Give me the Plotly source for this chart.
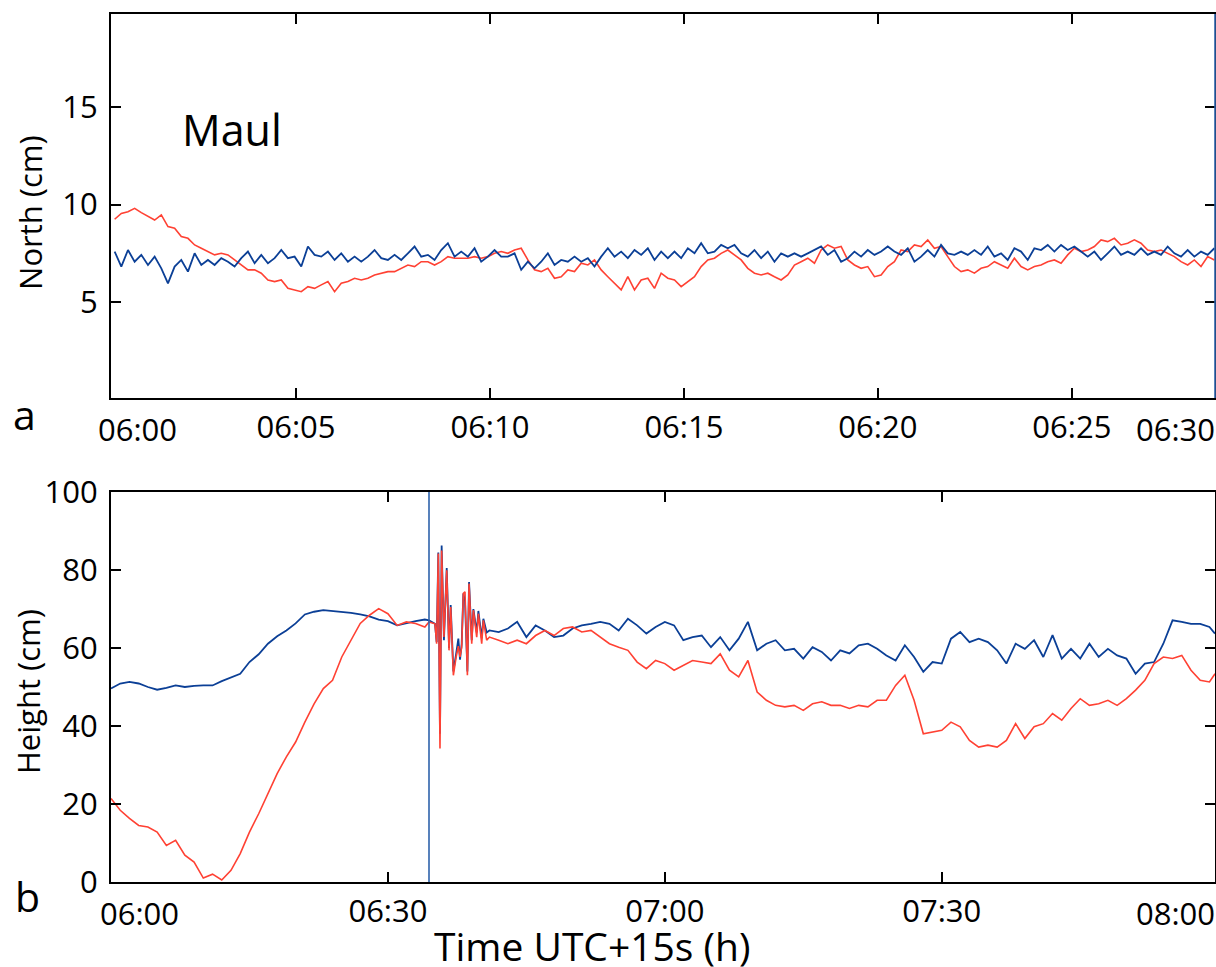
import plotly.graph_objects as go

# ---------------- Panel a : North (cm), sampled every ~10.3 s from 06:00:19.6 ----------------
NORTH_T0_MIN = 0.326
NORTH_DT_MIN = 0.1718

north_red = [
    9.25, 9.55, 9.64, 9.81, 9.59, 9.39, 9.21, 9.47, 8.87, 8.79,
    8.36, 8.27, 7.93, 7.76, 7.59, 7.42, 7.50, 7.42, 7.16, 6.90,
    6.65, 6.65, 6.48, 6.13, 6.05, 6.13, 5.70, 5.62, 5.53, 5.79,
    5.70, 5.88, 6.05, 5.53, 5.96, 6.05, 6.22, 6.13, 6.22, 6.39,
    6.48, 6.56, 6.56, 6.73, 6.90, 6.82, 7.07, 7.07, 6.90, 7.07,
    7.33, 7.25, 7.25, 7.25, 7.33, 7.25, 7.33, 7.50, 7.59, 7.50,
    7.67, 7.76, 7.16, 6.65, 6.56, 6.73, 6.22, 6.30, 6.65, 6.56,
    6.99, 6.90, 7.16, 6.65, 6.30, 5.96, 5.62, 6.30, 5.62, 6.13,
    6.22, 5.70, 6.48, 6.22, 6.13, 5.79, 6.05, 6.30, 6.82, 7.16,
    7.25, 7.50, 7.67, 7.42, 7.16, 6.73, 6.48, 6.39, 6.48, 6.30,
    6.13, 6.39, 6.90, 7.07, 7.25, 6.99, 7.67, 7.93, 7.76, 7.85,
    7.16, 6.90, 6.73, 6.82, 6.30, 6.39, 6.82, 7.07,
    7.67, 7.59, 7.93, 7.85, 8.19, 7.76, 7.85, 7.33, 6.82, 6.56,
    6.65, 6.48, 6.73, 6.82, 7.07, 6.90, 6.73, 7.25, 6.82, 6.65,
    6.82, 6.90, 7.07, 7.16, 6.99, 7.42, 7.76, 7.59, 7.67, 7.85,
    8.19, 8.10, 8.27, 7.93, 8.02, 8.19, 8.02, 7.67, 7.59, 7.67,
    7.50, 7.33, 7.07, 6.90, 7.16, 6.82, 7.33, 7.16,
]

north_blue = [
    7.59, 6.82, 7.67, 7.07, 7.42, 6.90, 7.33, 6.73, 5.96, 6.82,
    7.16, 6.56, 7.50, 6.90, 7.16, 6.90, 7.25, 7.07, 6.82, 7.25,
    7.59, 6.99, 7.42, 6.99, 7.25, 7.67, 7.25, 7.33, 6.82, 7.85,
    7.42, 7.33, 7.59, 7.16, 7.50, 7.07, 7.33, 7.07, 7.33, 7.67,
    7.25, 7.16, 7.42, 7.16, 7.50, 7.85, 7.33, 7.42, 7.16, 7.67,
    8.02, 7.33, 7.59, 7.33, 7.76, 7.07, 7.33, 7.67, 7.33, 7.33,
    7.50, 6.65, 7.07, 6.73, 7.07, 7.50, 6.90, 7.16, 7.07, 7.33,
    7.07, 7.25, 6.82, 7.33, 7.76, 7.33, 7.59, 7.25, 7.67, 7.42,
    7.76, 7.16, 7.59, 7.25, 7.59, 7.25, 7.76, 7.50, 8.02, 7.50,
    7.59, 7.93, 7.76, 7.93, 7.50, 7.33, 7.67, 7.25, 7.59, 7.07,
    7.50, 7.33, 7.50, 7.33, 7.50, 7.67, 7.85, 7.42, 7.67, 7.07,
    7.25, 7.59, 7.33, 7.67, 7.42, 7.59, 7.85, 7.59,
    7.42, 7.76, 7.07, 7.33, 7.67, 7.33, 7.93, 7.50, 7.42, 7.59,
    7.42, 7.67, 7.42, 7.85, 7.33, 7.50, 7.16, 7.76, 7.59, 7.16,
    7.76, 7.67, 7.93, 7.59, 7.93, 7.67, 7.85, 7.59, 7.33, 7.59,
    7.16, 7.50, 7.85, 7.42, 7.59, 7.42, 7.76, 7.42, 7.59, 7.42,
    7.85, 7.50, 7.33, 7.67, 7.33, 7.59, 7.42, 7.76,
]

north_t = [NORTH_T0_MIN + i * NORTH_DT_MIN for i in range(len(north_red))]

north_tickvals = [5, 10, 15, 20, 25]
north_ticktext = ["06:05", "06:10", "06:15", "06:20", "06:25"]
north_yticks = [5, 10, 15]

# ---------------- Panel b : Height (cm), minutes after 06:00 ----------------
height_t = (
    list(range(0, 35))
    + [34.45, 35.1, 35.28, 35.46, 35.64, 35.82, 36.07, 36.37, 36.62, 36.80,
       37.09, 37.39, 37.63, 37.81, 37.99, 38.17, 38.35, 38.61, 38.79, 39.08,
       39.26, 39.62, 39.80, 40.16, 40.34, 40.70]
    + list(range(41, 120))
    + [119.6]
)

height_red = (
    [21.4, 18.4, 16.3, 14.5, 14.1, 12.8, 9.4, 10.7, 6.9, 5.1,
     1.0, 2.0, 0.5, 3.0, 7.3, 12.8, 17.5, 22.7, 27.8, 32.1,
     35.9, 41.0, 45.7, 49.6, 51.7, 57.7, 62.0, 66.3, 68.4, 70.1,
     68.8, 65.8, 66.7, 66.3, 65.4]
    + [66.7, 66.2, 61.1, 84.2, 34.2, 85.0, 62.8, 79.9, 59.4, 70.5,
       53.0, 57.7, 60.5, 57.7, 60.2, 74.0, 74.4, 53.0, 76.5, 61.1,
       69.7, 62.8, 68.8, 61.1, 67.1, 62.0]
    + [62.8, 62.0, 61.1, 62.0, 61.1, 63.2, 64.5, 63.2, 65.0, 65.4,
       64.1, 64.5, 62.8, 61.1, 60.2, 59.4, 56.4, 54.7, 56.8, 56.0,
       54.3, 55.5, 56.8, 56.4, 56.0, 58.5, 54.3, 52.6, 56.8, 48.7,
       46.6, 45.3, 44.9, 45.3, 44.0, 45.7,
       46.2, 45.3, 45.3, 44.5, 45.3, 44.9, 46.6, 46.6, 50.4, 53.0,
       46.6, 38.0, 38.5, 38.9, 41.0, 39.8, 36.3, 34.6, 35.1, 34.6,
       36.3, 40.6, 36.8, 39.8, 40.6, 43.2, 41.5, 44.5, 47.0, 45.3,
       45.7, 46.6, 45.3, 47.0, 49.2, 51.7, 56.0, 57.7, 57.3, 58.1,
       54.3, 51.7, 51.3]
    + [53.4]
)

height_blue = (
    [49.6, 50.9, 51.3, 50.9, 50.0, 49.3, 49.8, 50.4, 50.0, 50.3,
     50.4, 50.4, 51.5, 52.4, 53.4, 56.4, 58.4, 61.1, 63.0, 64.5,
     66.3, 68.6, 69.3, 69.7, 69.5, 69.3, 69.0, 68.6, 68.1, 67.3,
     66.9, 65.8, 66.4, 66.9, 67.3]
    + [67.1, 66.2, 61.5, 84.5, 38.0, 86.3, 62.0, 80.5, 60.0, 71.0,
       54.0, 58.5, 62.4, 57.0, 61.0, 74.0, 72.0, 54.0, 76.9, 62.0,
       70.0, 64.0, 69.5, 62.5, 67.5, 64.0]
    + [64.5, 64.1, 65.0, 66.7, 62.8, 65.8, 64.5, 62.8, 63.2, 65.0,
       65.8, 66.2, 66.7, 66.2, 64.5, 67.5, 65.8, 63.7, 65.4, 66.7,
       65.8, 62.0, 62.8, 63.2, 60.2, 62.8, 59.4, 62.4, 66.7, 59.4,
       61.1, 62.0, 59.4, 59.8, 57.3, 60.2,
       59.0, 56.8, 59.4, 58.6, 60.7, 61.1, 59.8, 58.1, 56.8, 60.7,
       57.7, 53.9, 56.4, 56.0, 62.4, 64.1, 61.5, 62.4, 61.5, 59.4,
       56.0, 61.1, 59.8, 62.0, 57.7, 63.3, 57.3, 59.8, 57.3, 61.1,
       57.7, 59.8, 58.1, 57.3, 53.4, 56.0, 56.4, 61.1, 67.1, 66.7,
       66.2, 66.2, 65.4]
    + [63.7]
)

height_tickvals = [30, 60, 90]
height_ticktext = ["06:30", "07:00", "07:30"]
height_yticks = [0, 20, 40, 60, 80, 100]
quake_min = 34.45

RED = "#ff4133"
BLUE = "#0b3f96"
VLINE = "#2e62ab"
FONT = "Open Sans"
TICK_SIZE = 31

fig = go.Figure()
fig.add_trace(go.Scatter(x=north_t, y=north_red, mode="lines",
                         line=dict(color=RED, width=1.6), xaxis="x", yaxis="y", showlegend=False))
fig.add_trace(go.Scatter(x=north_t, y=north_blue, mode="lines",
                         line=dict(color=BLUE, width=1.8), xaxis="x", yaxis="y", showlegend=False))
fig.add_trace(go.Scatter(x=height_t, y=height_blue, mode="lines",
                         line=dict(color=BLUE, width=1.8), xaxis="x2", yaxis="y2", showlegend=False))
fig.add_trace(go.Scatter(x=height_t, y=height_red, mode="lines",
                         line=dict(color=RED, width=1.6), xaxis="x2", yaxis="y2", showlegend=False))

axis_common = dict(showline=True, linecolor="black", linewidth=2, mirror="ticks",
                   ticks="inside", ticklen=10, tickwidth=1.5, tickcolor="black",
                   showgrid=False, zeroline=False, automargin=False,
                   tickfont=dict(family=FONT, size=TICK_SIZE, color="black"))

fig.update_layout(
    width=1216, height=967,
    margin=dict(l=111, r=1, t=14, b=85, autoexpand=False),
    paper_bgcolor="white", plot_bgcolor="white",
    font=dict(family=FONT, color="black"),
    showlegend=False,
    xaxis=dict(domain=[0, 1], anchor="y", range=[0.232, 28.69],
               tickvals=north_tickvals, ticktext=north_ticktext,
               ticklabelstandoff=1, **axis_common),
    yaxis=dict(domain=[0.5576, 1], anchor="x", range=[0.07, 19.79],
               tickvals=north_yticks, ticklabelstandoff=5, **axis_common),
    xaxis2=dict(domain=[0, 1], anchor="y2", range=[0, 119.6],
                tickvals=height_tickvals, ticktext=height_ticktext,
                ticklabelstandoff=1, **axis_common),
    yaxis2=dict(domain=[0, 0.4493], anchor="x2", range=[0, 100],
                tickvals=height_yticks, ticklabelstandoff=5, **axis_common),
)

# earthquake marker line
fig.add_shape(type="line", xref="x2", yref="y2 domain", x0=quake_min, x1=quake_min, y0=0, y1=1,
              line=dict(color=VLINE, width=1.6))
# blue right frame of panel a
fig.add_shape(type="line", xref="x domain", yref="y domain", x0=1, x1=1, y0=0, y1=1,
              line=dict(color=VLINE, width=1.6))


def label(text, x, y, size, xanchor="center", angle=0):
    fig.add_annotation(text=text, xref="paper", yref="paper", x=x, y=y,
                       xanchor=xanchor, yanchor="middle", textangle=angle, showarrow=False,
                       font=dict(family=FONT, size=size, color="black"))


label("North (cm)", -0.0734, 0.7719, TICK_SIZE, angle=-90)
label("Height (cm)", -0.0752, 0.2200, TICK_SIZE, angle=-90)
label("Maul", 0.0625, 0.8675, 43, xanchor="left")
label("a", -0.0906, 0.5386, 41, xanchor="left")
label("b", -0.0888, -0.0161, 41, xanchor="left")
# edge time labels
for txt, xf, yf in [("06:00", 0.0236, 0.5219), ("06:30", 0.9638, 0.5219),
                    ("06:00", 0.0254, -0.0357), ("08:00", 0.9638, -0.0357)]:
    label(txt, xf, yf, TICK_SIZE)
label("Time UTC+15s (h)", 0.4357, -0.0730, 39)

# remove the browser's default 8 px body margin so the figure fills the window exactly
fig.write_html("out.html", config={"displayModeBar": False},
               post_script="document.body.style.margin='0';")
